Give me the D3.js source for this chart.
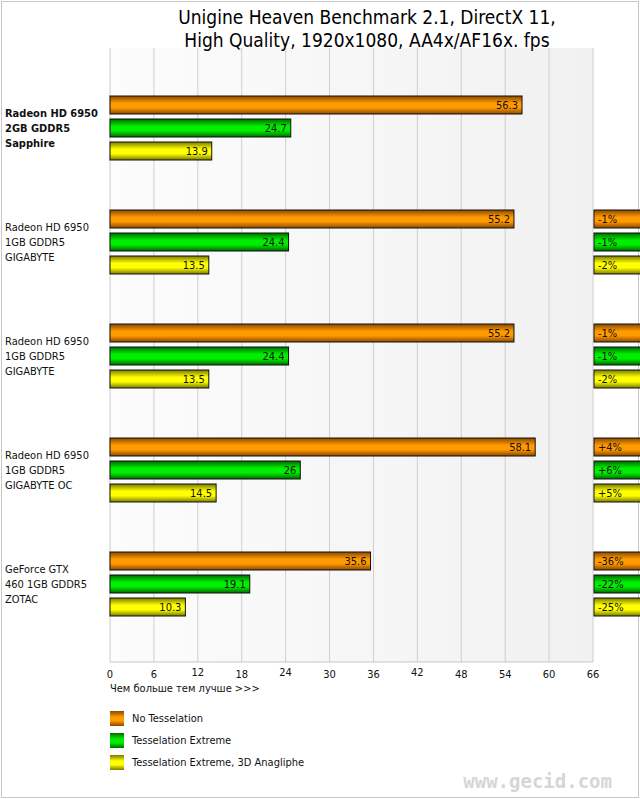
<!DOCTYPE html>
<html><head><meta charset="utf-8">
<script src="https://cdn.jsdelivr.net/npm/d3@7"></script>
<style>body{margin:0;background:#fff}svg{display:block;font-family:"DejaVu Sans Condensed","DejaVu Sans",sans-serif}</style>
</head><body>
<script>
const categories=[["Radeon HD 6950","2GB GDDR5","Sapphire"],["Radeon HD 6950","1GB GDDR5","GIGABYTE"],["Radeon HD 6950","1GB GDDR5","GIGABYTE"],["Radeon HD 6950","1GB GDDR5","GIGABYTE OC"],["GeForce GTX","460 1GB GDDR5","ZOTAC"]];
const series=["No Tesselation","Tesselation Extreme","Tesselation Extreme, 3D Anagliphe"];
const noTess=[56.3,55.2,55.2,58.1,35.6];
const tessExt=[24.7,24.4,24.4,26,19.1];
const anaglyph=[13.9,13.5,13.5,14.5,10.3];
const diffs=[[null,null,null],["-1%","-1%","-2%"],["-1%","-1%","-2%"],["+4%","+6%","+5%"],["-36%","-22%","-25%"]];
const ticks=[0,6,12,18,24,30,36,42,48,54,60,66];
const values=[noTess,tessExt,anaglyph];
const colors=[["#8a4800","#ff9a00"],["#006a00","#00ee00"],["#7a7a00","#ffff00"]];

const W=640,H=799;
const svg=d3.select("body").append("svg").attr("width",W).attr("height",H);
const defs=svg.append("defs");
colors.forEach((c,i)=>{
  const g=defs.append("linearGradient").attr("id","g"+i).attr("x1",0).attr("x2",0).attr("y1",0).attr("y2",1);
  g.append("stop").attr("offset","0%").attr("stop-color",c[0]);
  g.append("stop").attr("offset","40%").attr("stop-color",c[1]);
  g.append("stop").attr("offset","65%").attr("stop-color",c[1]);
  g.append("stop").attr("offset","100%").attr("stop-color",c[0]);
});
const bg=defs.append("linearGradient").attr("id","bg");
bg.append("stop").attr("offset","0%").attr("stop-color","#fcfcfc");
bg.append("stop").attr("offset","100%").attr("stop-color","#f1f1f1");

svg.append("rect").attr("x",1.5).attr("y",1.5).attr("width",W-3).attr("height",H-3).attr("fill","#fff").attr("stroke","#c8c8c8");

const x=d3.scaleLinear().domain([0,66]).range([110,593]);
const plotTop=48,plotBottom=662;
const y=d3.scaleBand().domain(d3.range(categories.length)).range([82,652]);
svg.append("rect").attr("x",x(0)).attr("y",plotTop).attr("width",x(66)-x(0)).attr("height",plotBottom-plotTop).attr("fill","url(#bg)");
svg.selectAll(".grid").data(ticks).enter().append("line")
 .attr("x1",d=>x(d)).attr("x2",d=>x(d)).attr("y1",plotTop).attr("y2",plotBottom).attr("stroke","#cfcfcf");
svg.append("line").attr("x1",x(0)).attr("x2",x(66)).attr("y1",plotBottom).attr("y2",plotBottom).attr("stroke","#c8c8c8");

svg.append("text").attr("x",367).attr("y",24).attr("text-anchor","middle").attr("font-size",19).text("Unigine Heaven Benchmark 2.1, DirectX 11,");
svg.append("text").attr("x",367).attr("y",47).attr("text-anchor","middle").attr("font-size",19).text("High Quality, 1920x1080, AA4x/AF16x. fps");

const bh=18,step=23;
categories.forEach((cat,ci)=>{
  const y0=y(ci)+14;
  const t=svg.append("text").attr("x",5).attr("font-size",11).attr("font-weight",ci===0?"bold":"normal").attr("fill","#111");
  cat.forEach((l,li)=>t.append("tspan").attr("x",5).attr("y",y0+21+li*15).text(l));
  values.forEach((vals,si)=>{
    const by=y0+si*step;
    svg.append("rect").attr("x",x(0)).attr("y",by).attr("width",x(vals[ci])-x(0)).attr("height",bh)
      .attr("fill","url(#g"+si+")").attr("stroke","#111").attr("stroke-width",1);
    svg.append("text").attr("x",x(vals[ci])-4).attr("y",by+13).attr("text-anchor","end").attr("font-size",11).attr("fill","#111").text(vals[ci]);
    const d=diffs[ci][si];
    if(d){
      svg.append("rect").attr("x",x(66)+1).attr("y",by).attr("width",60).attr("height",bh)
        .attr("fill","url(#g"+si+")").attr("stroke","#111");
      svg.append("text").attr("x",x(66)+5).attr("y",by+13).attr("font-size",11).attr("fill","#111").text(d);
    }
  });
});

svg.selectAll(".tick").data(ticks).enter().append("text")
 .attr("x",d=>x(d)).attr("y",d=>[12,24,42].includes(d)?676:678).attr("text-anchor","middle").attr("font-size",11).attr("fill","#111").text(d=>d);
svg.append("text").attr("x",110).attr("y",692).attr("font-size",11).attr("fill","#111").text("Чем больше тем лучше >>>");

series.forEach((s,i)=>{
  const ly=711+i*22;
  svg.append("rect").attr("x",110).attr("y",ly).attr("width",14).attr("height",15).attr("fill","url(#g"+i+")");
  svg.append("text").attr("x",132).attr("y",ly+11).attr("font-size",11).attr("fill","#111").text(s);
});
svg.append("text").attr("x",612).attr("y",788).attr("text-anchor","end").attr("font-size",19).attr("font-weight","bold")
 .attr("font-family","DejaVu Sans Mono,monospace").attr("fill","#d6d6d6").text("www.gecid.com");
</script>
</body></html>
